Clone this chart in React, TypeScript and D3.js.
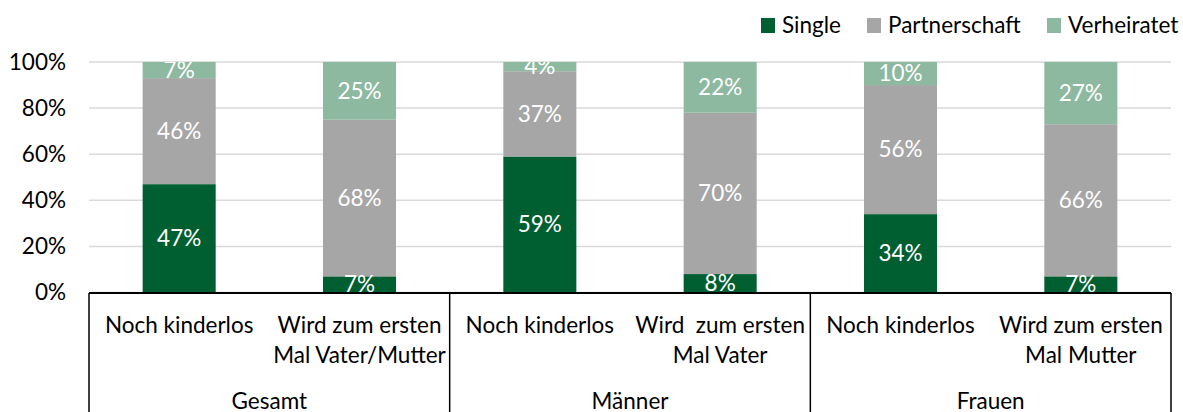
import React from "react";
import * as d3 from "d3";

const WIDTH = 1183;
const HEIGHT = 412;
const PLOT = { left: 89, right: 1171, top: 62, bottom: 293 };
const FONT = "Lato, 'Open Sans', sans-serif";
const FS = 22.5;

const groups = ["Gesamt", "Männer", "Frauen"];
const categories = [
  ["Noch kinderlos"],
  ["Wird zum ersten", "Mal Vater/Mutter"],
  ["Noch kinderlos"],
  ["Wird  zum ersten", "Mal Vater"],
  ["Noch kinderlos"],
  ["Wird zum ersten", "Mal Mutter"],
];
const seriesNames = ["Single", "Partnerschaft", "Verheiratet"];
const seriesColors = ["#005F30", "#A6A6A6", "#8DB9A0"];
const single = [47, 7, 59, 8, 34, 7];
const partnerschaft = [46, 68, 37, 70, 56, 66];
const verheiratet = [7, 25, 4, 22, 10, 27];
const yTicks = [0, 20, 40, 60, 80, 100];

export default function App() {
  const rows = categories.map((c, i) => ({
    idx: String(i),
    Single: single[i],
    Partnerschaft: partnerschaft[i],
    Verheiratet: verheiratet[i],
  }));
  const stacked = d3.stack<any>().keys(seriesNames)(rows);

  const x = d3
    .scaleBand()
    .domain(rows.map((r) => r.idx))
    .range([PLOT.left, PLOT.right])
    .padding(0);
  const barW = x.bandwidth() * 0.405;

  const y = d3.scaleLinear().domain([0, 100]).range([PLOT.bottom - 0.5, PLOT.top]);

  const groupX = d3
    .scaleBand()
    .domain(groups)
    .range([PLOT.left, PLOT.right]);

  const color = d3.scaleOrdinal<string>().domain(seriesNames).range(seriesColors);

  // legend layout (x positions of squares)
  const legendX = [761, 867, 1047];

  return (
    <svg
      width={WIDTH}
      height={HEIGHT}
      style={{ position: "absolute", left: 0, top: 0 }}
      fontFamily={FONT}
    >
      <defs>
        <clipPath id="plotClip">
          <rect x={PLOT.left} y={PLOT.top} width={PLOT.right - PLOT.left} height={PLOT.bottom - PLOT.top} />
        </clipPath>
      </defs>

      {/* gridlines */}
      {yTicks.map((t) => (
        <line
          key={t}
          x1={PLOT.left}
          x2={PLOT.right}
          y1={y(t)}
          y2={y(t)}
          stroke="#D9D9D9"
          strokeWidth={1.5}
        />
      ))}

      {/* y tick labels */}
      {yTicks.map((t) => (
        <text
          key={t}
          x={66}
          y={y(t)}
          dy="0.35em"
          textAnchor="end"
          fontSize={FS}
          fill="#000"
        >
          {t}%
        </text>
      ))}

      {/* bars */}
      {stacked.map((s) => (
        <g key={s.key} fill={color(s.key)}>
          {s.map((d: any) => (
            <rect
              key={d.data.idx}
              x={x(d.data.idx)! + (x.bandwidth() - barW) / 2}
              y={y(d[1])}
              width={barW}
              height={y(d[0]) - y(d[1])}
            />
          ))}
        </g>
      ))}

      {/* value labels */}
      <g clipPath="url(#plotClip)">
        {stacked.map((s) =>
          s.map((d: any) => (
            <text
              key={s.key + d.data.idx}
              x={x(d.data.idx)! + x.bandwidth() / 2}
              y={(y(d[0]) + y(d[1])) / 2}
              dy="0.35em"
              textAnchor="middle"
              fontSize={FS}
              fill="#fff"
            >
              {d[1] - d[0]}%
            </text>
          ))
        )}
      </g>

      {/* category axis box */}
      <line x1={PLOT.left} x2={PLOT.right} y1={PLOT.bottom} y2={PLOT.bottom} stroke="#000" strokeWidth={2} />
      {[...groups.map((g) => groupX(g)!), PLOT.right].map((gx, i) => (
        <line key={i} x1={gx} x2={gx} y1={PLOT.bottom} y2={HEIGHT} stroke="#000" strokeWidth={1.5} />
      ))}

      {categories.map((lines, i) => (
        <text
          key={i}
          x={x(String(i))! + x.bandwidth() / 2}
          y={333}
          textAnchor="middle"
          fontSize={FS}
          fill="#000"
          style={{ whiteSpace: "pre" }}
        >
          {lines.map((l, j) => (
            <tspan key={j} x={x(String(i))! + x.bandwidth() / 2} y={333 + j * 30}>
              {l}
            </tspan>
          ))}
        </text>
      ))}

      {groups.map((g) => (
        <text
          key={g}
          x={groupX(g)! + groupX.bandwidth() / 2}
          y={409}
          textAnchor="middle"
          fontSize={FS}
          fill="#000"
        >
          {g}
        </text>
      ))}

      {/* legend */}
      {seriesNames.map((n, i) => (
        <g key={n}>
          <rect x={legendX[i]} y={18} width={14} height={15} fill={color(n)} />
          <text x={legendX[i] + 21} y={33} fontSize={FS} fill="#000">
            {n}
          </text>
        </g>
      ))}
    </svg>
  );
}
